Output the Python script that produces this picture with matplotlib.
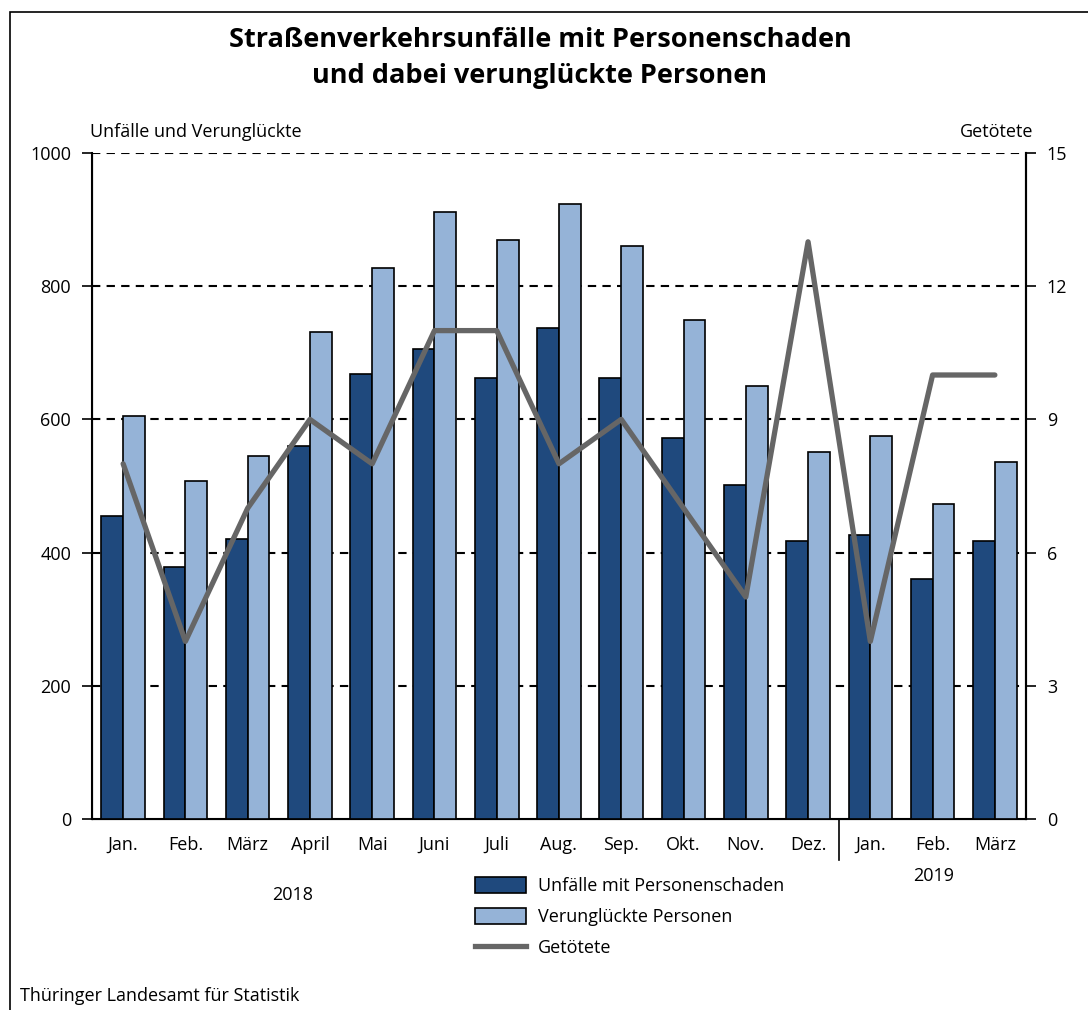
import matplotlib.pyplot as plt
import matplotlib.transforms as mtransforms
from matplotlib.patches import Rectangle
from matplotlib.lines import Line2D
import numpy as np

plt.rcParams['font.family'] = ['Open Sans', 'DejaVu Sans']

months = ['Jan.', 'Feb.', 'März', 'April', 'Mai', 'Juni', 'Juli', 'Aug.',
          'Sep.', 'Okt.', 'Nov.', 'Dez.', 'Jan.', 'Feb.', 'März']
unfaelle = [455, 378, 421, 560, 668, 705, 662, 737, 662, 572, 502, 418, 427, 361, 418]
verunglueckte = [605, 508, 545, 731, 827, 912, 870, 923, 860, 749, 650, 551, 575, 473, 536]
getoetete = [8, 4, 7, 9, 8, 11, 11, 8, 9, 7, 5, 13, 4, 10, 10]

dark = '#1f497d'
light = '#95b3d7'
grey = '#666666'

fig = plt.figure(figsize=(10.88, 10.10), dpi=100)
ax = fig.add_axes([92/1088, 1-819/1010, (1026-92)/1088, (819-153)/1010])

x = np.arange(len(months))
w = 0.35
ax.bar(x - w/2, unfaelle, w, color=dark, edgecolor='black', linewidth=1.2, zorder=3)
ax.bar(x + w/2, verunglueckte, w, color=light, edgecolor='black', linewidth=1.2, zorder=3)

ax.set_xlim(-0.5, len(months) - 0.5)
ax.set_ylim(0, 1000)
ax.set_yticks(range(0, 1001, 200))
for v in range(200, 1001, 200):
    ax.axhline(v, color='black', linestyle=(0, (4, 3)), linewidth=1.5, zorder=1)
ax.spines['top'].set_visible(False)
for s in ['left', 'right', 'bottom']:
    ax.spines[s].set_linewidth(1.5)
ax.tick_params(axis='y', direction='out', length=7, width=1.2, labelsize=13, pad=8)
ax.set_xticks(x)
ax.set_xticklabels(months, fontsize=13)
ax.tick_params(axis='x', length=0, pad=12)

ax2 = ax.twinx()
ax2.plot(x, getoetete, color=grey, linewidth=3.8, zorder=5, solid_capstyle='round')
ax2.set_ylim(0, 15)
ax2.set_yticks(range(0, 16, 3))
ax2.tick_params(axis='y', direction='out', length=7, width=1.2, labelsize=13, pad=8)
ax2.spines['top'].set_visible(False)
ax2.spines['right'].set_linewidth(1.5)

# year separator
trans = mtransforms.blended_transform_factory(ax.transData, ax.transAxes)
ax.add_line(Line2D([11.5, 11.5], [0, -41/666], transform=trans, color='black',
                   linewidth=1.2, clip_on=False))

fig.text(293/1088, 1-895/1010, '2018', ha='center', va='center', fontsize=13)
fig.text(934/1088, 1-876/1010, '2019', ha='center', va='center', fontsize=13)

fig.text(540/1088, 1-40/1010, 'Straßenverkehrsunfälle mit Personenschaden',
         ha='center', va='center', fontsize=19.5, fontweight='bold')
fig.text(540/1088, 1-76/1010, 'und dabei verunglückte Personen',
         ha='center', va='center', fontsize=19.5, fontweight='bold')
fig.text(90/1088, 1-132/1010, 'Unfälle und Verunglückte', ha='left', va='center', fontsize=13)
fig.text(1033/1088, 1-132/1010, 'Getötete', ha='right', va='center', fontsize=13)
fig.text(20/1088, 1-996/1010, 'Thüringer Landesamt für Statistik', ha='left', va='center', fontsize=13)

# legend
handles = [Rectangle((0, 0), 1, 1, facecolor=dark, edgecolor='black', linewidth=1.2),
           Rectangle((0, 0), 1, 1, facecolor=light, edgecolor='black', linewidth=1.2),
           Line2D([], [], color=grey, linewidth=3.8)]
labels = ['Unfälle mit Personenschaden', 'Verunglückte Personen', 'Getötete']
fig.legend(handles, labels, loc='upper left', bbox_to_anchor=(475/1088, 1-877/1010),
           frameon=False, fontsize=13, handlelength=2.8, handleheight=1.0,
           labelspacing=0.7, handletextpad=0.7, borderaxespad=0, borderpad=0)

# outer frame
fig.add_artist(Rectangle((10/1088, -0.05), 1.1, 1-12/1010 + 0.05, transform=fig.transFigure,
                         fill=False, edgecolor='black', linewidth=1.2))

fig.savefig('out.png', dpi=100)
